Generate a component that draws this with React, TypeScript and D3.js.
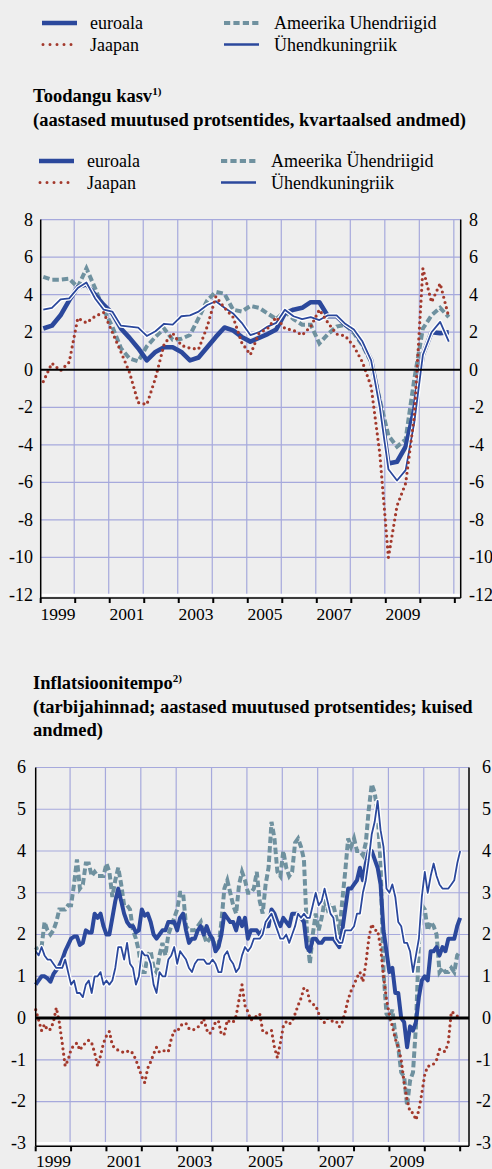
import React from "react";
import * as d3 from "d3";

// ---- data ----
const quarterYears = [1999, 2000, 2001, 2002, 2003, 2004, 2005, 2006, 2007, 2008, 2009, 2010];
const quarters = quarterYears.flatMap((y) => [1, 2, 3, 4].map((q) => `${y}Q${q}`));

// Toodangu kasv, quarterly 1999Q1 - 2010Q4
const gdpEuro = [
  2.2, 2.35, 2.9, 3.7, 4.4, 4.55, 4.0, 3.45, 3.0, 2.2, 1.7, 1.15,
  0.5, 0.95, 1.2, 1.2, 0.95, 0.5, 0.65, 1.2, 1.75, 2.25, 2.1, 1.75,
  1.5, 1.7, 1.9, 2.15, 3.0, 3.2, 3.3, 3.6, 3.6, 2.85, 2.85, 2.4,
  2.1, 1.4, 0.5, -1.8, -5.0, -4.9, -4.1, -2.1, 0.8, 2.0, 1.95, 2.0,
];
const gdpJapan = [
  -0.63, 0.35, -0.05, 0.4, 2.75, 2.5, 2.85, 3.05, 2.0, 0.95, -0.15, -1.75,
  -1.85, -0.45, 1.35, 1.95, 1.3, 1.15, 1.1, 2.3, 3.9, 3.3, 2.8, 1.45,
  0.8, 1.95, 2.2, 2.8, 2.2, 2.1, 1.85, 2.3, 3.2, 2.5, 1.9, 1.8,
  1.25, 0.4, -0.9, -4.45, -10.0, -7.25, -6.05, -2.5, 5.4, 3.6, 4.6, 2.8,
];
const gdpUsa = [
  4.95, 4.8, 4.8, 4.85, 4.4, 5.4, 4.35, 3.2, 2.3, 1.15, 0.6, 0.45,
  1.25, 1.75, 2.2, 1.6, 1.65, 1.85, 2.75, 3.7, 4.15, 4.05, 3.2, 3.1,
  3.4, 3.3, 3.0, 2.7, 3.1, 2.7, 2.4, 2.4, 1.4, 1.9, 2.3, 2.4,
  1.95, 1.3, 0.4, -1.6, -3.5, -4.1, -3.7, -0.5, 2.2, 2.9, 3.3, 2.8,
];
const gdpUk = [
  3.2, 3.3, 3.75, 3.8, 4.35, 4.65, 3.8, 3.2, 3.1, 2.35, 2.3, 2.25,
  1.8, 2.05, 2.45, 2.4, 2.85, 2.9, 3.1, 3.45, 3.65, 3.3, 3.0, 2.5,
  1.85, 2.0, 2.3, 2.5, 3.2, 2.85, 2.7, 2.8, 2.65, 2.9, 2.9, 2.45,
  2.15, 1.5, 0.5, -2.0, -5.3, -5.9, -5.35, -2.8, 0.8, 2.0, 2.55, 1.5,
];

// Inflatsioonitempo, monthly Jan 1999 - Jan 2011
const monthYears = [1999, 2000, 2001, 2002, 2003, 2004, 2005, 2006, 2007, 2008, 2009, 2010];
const months = [...monthYears.flatMap((y) => d3.range(12).map((m) => `${y}-${m + 1}`)), "2011-1"];

const cpiEuro = [
  0.8, 0.9, 1.0, 1.0, 0.95, 0.87, 1.05, 1.15, 1.25, 1.4, 1.6, 1.75,
  1.9, 1.95, 1.95, 1.75, 1.8, 2.1, 2.05, 2.05, 2.5, 2.4, 2.5, 2.2,
  2.0, 2.0, 2.4, 2.8, 3.1, 2.8, 2.5, 2.3, 2.2, 2.2, 2.05, 2.1,
  2.6, 2.45, 2.5, 2.3, 2.0, 1.9, 2.0, 2.1, 2.1, 2.3, 2.3, 2.3,
  2.1, 2.4, 2.5, 2.1, 1.8, 1.9, 1.9, 2.1, 2.2, 2.0, 2.2, 2.0,
  1.9, 1.6, 1.7, 2.0, 2.5, 2.4, 2.3, 2.3, 2.1, 2.4, 2.2, 2.4,
  1.9, 2.1, 2.1, 2.1, 2.0, 2.1, 2.2, 2.2, 2.6, 2.5, 2.3, 2.2,
  2.4, 2.3, 2.2, 2.5, 2.5, 2.5, 2.4, 2.3, 1.7, 1.6, 1.9, 1.9,
  1.8, 1.8, 1.9, 1.9, 1.9, 1.9, 1.8, 1.7, 2.1, 2.6, 3.1, 3.1,
  3.2, 3.3, 3.6, 3.3, 3.7, 4.0, 4.0, 3.8, 3.6, 3.2, 2.1, 1.6,
  1.1, 1.2, 0.6, 0.6, 0.0, -0.1, -0.7, -0.2, -0.3, -0.1, 0.5, 0.9,
  1.0, 0.9, 1.6, 1.6, 1.7, 1.5, 1.7, 1.6, 1.9, 1.9, 1.9, 2.2,
  2.4,
];
const cpiJapan = [
  0.2, -0.05, -0.3, -0.15, -0.29, -0.27, -0.1, 0.25, -0.1, -0.6, -1.15, -1.0,
  -0.75, -0.65, -0.6, -0.77, -0.65, -0.6, -0.53, -0.6, -0.83, -1.15, -0.9, -0.6,
  -0.43, -0.32, -0.65, -0.73, -0.77, -0.8, -0.83, -0.8, -0.78, -0.85, -1.0, -1.2,
  -1.4, -1.55, -1.2, -1.05, -0.86, -0.7, -0.82, -0.8, -0.77, -0.8, -0.5, -0.3,
  -0.33, -0.2, -0.13, -0.13, -0.25, -0.29, -0.27, -0.22, -0.15, -0.02, -0.28, -0.38,
  -0.27, -0.1, -0.07, -0.4, -0.38, -0.05, -0.1, -0.1, 0.05, 0.45, 0.8, 0.3,
  0.15, -0.05, -0.01, 0.05, 0.1, -0.3, -0.37, -0.33, -0.3, -0.7, -0.95, -0.6,
  -0.2, -0.09, -0.15, -0.08, 0.1, 0.3, 0.47, 0.72, 0.7, 0.4, 0.33, 0.3,
  0.11, -0.05, -0.11, -0.01, -0.05, -0.09, -0.08, -0.21, -0.1, 0.15, 0.45, 0.65,
  0.8, 0.97, 1.1, 0.87, 1.3, 1.9, 2.25, 2.1, 2.1, 1.7, 1.0, 0.45,
  0.07, -0.2, -0.5, -0.7, -1.0, -1.55, -1.96, -2.25, -2.27, -2.44, -2.2, -1.8,
  -1.35, -1.15, -1.15, -1.1, -1.0, -0.75, -0.8, -0.8, -0.57, 0.15, 0.11, 0.05,
  0.01,
];
const cpiUsa = [
  1.7, 1.6, 1.7, 2.3, 2.1, 2.0, 2.1, 2.3, 2.6, 2.6, 2.6, 2.7,
  2.7, 3.2, 3.8, 3.1, 3.2, 3.7, 3.7, 3.4, 3.5, 3.4, 3.4, 3.4,
  3.7, 3.5, 2.9, 3.3, 3.6, 3.2, 2.7, 2.7, 2.6, 2.1, 1.9, 1.6,
  1.1, 1.1, 1.5, 1.6, 1.2, 1.1, 1.5, 1.8, 1.5, 2.0, 2.2, 2.4,
  2.6, 3.0, 3.0, 2.2, 2.1, 2.1, 2.1, 2.2, 2.3, 2.0, 1.8, 1.9,
  1.9, 1.7, 1.7, 2.3, 3.1, 3.3, 3.0, 2.7, 2.5, 3.2, 3.5, 3.3,
  3.0, 3.0, 3.1, 3.5, 2.8, 2.5, 3.2, 3.6, 4.7, 4.3, 3.5, 3.4,
  4.0, 3.6, 3.4, 3.5, 4.2, 4.3, 4.1, 3.8, 2.1, 1.3, 2.0, 2.5,
  2.1, 2.4, 2.8, 2.6, 2.7, 2.7, 2.4, 2.0, 2.8, 3.5, 4.3, 4.1,
  4.3, 4.0, 4.0, 3.9, 4.2, 5.0, 5.6, 5.4, 4.9, 3.7, 1.1, 0.1,
  0.0, 0.2, -0.4, -0.7, -1.3, -1.4, -2.1, -1.5, -1.3, -0.2, 1.8, 2.7,
  2.6, 2.1, 2.3, 2.2, 2.0, 1.1, 1.2, 1.1, 1.1, 1.2, 1.1, 1.5,
  1.6,
];
const cpiUk = [
  1.6, 1.5, 1.7, 1.5, 1.4, 1.4, 1.3, 1.2, 1.2, 1.2, 1.4, 1.1,
  0.8, 0.9, 0.6, 0.6, 0.5, 0.8, 0.9, 0.6, 1.0, 1.0, 1.1, 0.8,
  0.9, 0.8, 0.9, 1.2, 1.7, 1.7, 1.4, 1.8, 1.3, 1.2, 0.8, 1.0,
  1.6, 1.5, 1.5, 1.3, 0.8, 0.6, 1.1, 1.0, 1.0, 1.4, 1.5, 1.7,
  1.3, 1.6, 1.5, 1.4, 1.2, 1.1, 1.3, 1.4, 1.4, 1.4, 1.3, 1.3,
  1.4, 1.3, 1.1, 1.1, 1.5, 1.6, 1.4, 1.3, 1.1, 1.2, 1.5, 1.7,
  1.6, 1.7, 1.9, 1.9, 1.9, 2.0, 2.3, 2.4, 2.5, 2.3, 2.1, 1.9,
  1.9, 2.0, 1.8, 2.0, 2.2, 2.5, 2.4, 2.5, 2.4, 2.4, 2.7, 3.0,
  2.7, 2.8, 3.1, 2.8, 2.5, 2.4, 1.9, 1.8, 1.8, 2.1, 2.1, 2.1,
  2.2, 2.5, 2.5, 3.0, 3.3, 3.8, 4.4, 4.7, 5.2, 4.5, 4.1, 3.1,
  3.0, 3.2, 2.9, 2.3, 2.2, 1.8, 1.8, 1.6, 1.1, 1.5, 1.9, 2.9,
  3.5, 3.0, 3.4, 3.7, 3.4, 3.2, 3.1, 3.1, 3.1, 3.2, 3.3, 3.7,
  4.0,
];

const axisYears = d3.range(1999, 2012);
const yearLabels = [1999, 2001, 2003, 2005, 2007, 2009];
const growthTicks = [8, 6, 4, 2, 0, -2, -4, -6, -8, -10, -12];
const inflationTicks = [6, 5, 4, 3, 2, 1, 0, -1, -2, -3];

// ---- styles ----
const BG = "#eeeeee";
const GRID = "#a6a9dc";
const BLUE = "#2b489c";
const RED = "#a3392c";
const TEAL = "#6f919f";
const FONT = "Liberation Serif";
const FS = 18;

const toTimeQ = (_: string, i: number) => 1999 + i / 4 + 0.075;
const toTimeM = (_: string, i: number) => 1999 + i / 12;

function T(props: any) {
  return <text fontFamily={FONT} fontSize={FS} fill="#000" {...props} />;
}

function Panel(props: any) {
  const { x0, x1, yearEnd, yTop, yBottom, ticks, times, euro, japan, usa, uk,
    leftX, rightX, rightAnchor, labelBaseline, zeroWidth, dash, thick } = props;
  const x = d3.scaleLinear().domain([1999, yearEnd]).range([x0, x1]);
  const y = d3.scaleLinear().domain([ticks[ticks.length - 1], ticks[0]]).range([yBottom, yTop]);
  const line = d3.line<number>().x((_, i) => x(times[i])).y((d) => y(d));
  const axisY = yBottom + 3;

  return (
    <g>
      {ticks.filter((t: number) => t !== 0 && t !== ticks[ticks.length - 1]).map((t: number) => (
        <line key={"h" + t} x1={x0} x2={x1} y1={y(t)} y2={y(t)} stroke={GRID} strokeWidth={1.2} />
      ))}
      {axisYears.slice(1).map((yr) => (
        <line key={"v" + yr} x1={x(yr) - 1} x2={x(yr) - 1} y1={yTop} y2={yBottom} stroke={GRID} strokeWidth={1.2} />
      ))}
      <line x1={x0} x2={x1} y1={yBottom} y2={yBottom} stroke="#ffffff" strokeWidth={2.5} />

      <path d={line(usa) || ""} fill="none" stroke={TEAL} strokeWidth={4} strokeDasharray={dash} />
      <path d={line(euro) || ""} fill="none" stroke={BLUE} strokeWidth={thick} strokeLinejoin="round" />
      <path d={line(uk) || ""} fill="none" stroke="#ffffff" strokeWidth={4.4} strokeLinejoin="round" />
      <path d={line(uk) || ""} fill="none" stroke={BLUE} strokeWidth={1.8} strokeLinejoin="round" />
      <path d={line(japan) || ""} fill="none" stroke={RED} strokeWidth={3.2} strokeDasharray="0 5.4" strokeLinecap="round" />

      <line x1={x0} x2={x1} y1={y(0)} y2={y(0)} stroke="#000" strokeWidth={zeroWidth} />
      <line x1={x0} x2={x0} y1={yTop} y2={axisY} stroke="#000" strokeWidth={1.5} />
      <line x1={x1} x2={x1} y1={yTop} y2={axisY} stroke="#000" strokeWidth={1.5} />
      <line x1={x0} x2={x1} y1={axisY} y2={axisY} stroke="#000" strokeWidth={1.5} />
      {axisYears.map((yr) => (
        <line key={"t" + yr} x1={x(yr)} x2={x(yr)} y1={axisY} y2={axisY + 5} stroke="#000" strokeWidth={2} />
      ))}

      {ticks.map((t: number) => (
        <T key={"l" + t} x={leftX} y={y(t)} dy="0.33em" textAnchor="end">{t}</T>
      ))}
      {ticks.map((t: number) => (
        <T key={"r" + t} x={rightX} y={y(t)} dy="0.33em" textAnchor={rightAnchor}>{t}</T>
      ))}
      {yearLabels.map((yr) => (
        <T key={"y" + yr} x={x(yr + 0.5)} y={labelBaseline} textAnchor="middle" fontSize={17.5}>{yr}</T>
      ))}
    </g>
  );
}

function Legend({ x, y, usaLabel }: { x: number; y: number; usaLabel: string }) {
  const row2 = y + 21.5;
  const col2 = x + 182;
  return (
    <g>
      <line x1={x} x2={x + 35} y1={y} y2={y} stroke={BLUE} strokeWidth={4.5} />
      <T x={x + 48} y={y + 6}>euroala</T>
      <line x1={x + 1} x2={x + 35} y1={row2} y2={row2} stroke={RED} strokeWidth={3} strokeDasharray="0 7" strokeLinecap="round" />
      <T x={x + 48} y={row2 + 6}>Jaapan</T>
      <line x1={col2} x2={col2 + 35} y1={y} y2={y} stroke={TEAL} strokeWidth={4} strokeDasharray="6.2 3.2" />
      <T x={col2 + 50} y={y + 6}>{usaLabel}</T>
      <line x1={col2} x2={col2 + 35} y1={row2} y2={row2} stroke={BLUE} strokeWidth={2.5} />
      <T x={col2 + 50} y={row2 + 6}>Ühendkuningriik</T>
    </g>
  );
}

export default function App() {
  const tq = quarters.map(toTimeQ);
  const tm = months.map(toTimeM);
  return (
    <div style={{ position: "absolute", left: 0, top: 0, width: 492, height: 1169, background: BG }}>
      <svg width={492} height={1169} style={{ display: "block" }}>
        <rect width={492} height={1169} fill={BG} />
        <Legend x={42} y={23} usaLabel="Ameerika Uhendriigid" />

        <T x={33} y={102} fontWeight="bold" fontSize={18.5}>
          Toodangu kasv<tspan fontSize={11} dy={-7}>1)</tspan>
        </T>
        <T x={33} y={126} fontWeight="bold" fontSize={18.5}>(aastased muutused protsentides, kvartaalsed andmed)</T>

        <Legend x={39} y={161} usaLabel="Ameerika Ühendriigid" />

        <Panel
          x0={40.7} x1={460.7} yearEnd={2011.17} yTop={219.6} yBottom={595}
          ticks={growthTicks} times={tq}
          euro={gdpEuro} japan={gdpJapan} usa={gdpUsa} uk={gdpUk}
          leftX={33} rightX={469} rightAnchor="start" labelBaseline={620}
          zeroWidth={2} dash="6.5 3" thick={4.6}
        />

        <T x={33} y={689} fontWeight="bold" fontSize={18.5}>
          Inflatsioonitempo<tspan fontSize={11} dy={-7}>2)</tspan>
        </T>
        <T x={33} y={713} fontWeight="bold" fontSize={18.5}>(tarbijahinnad; aastased muutused protsentides; kuised</T>
        <T x={33} y={736} fontWeight="bold" fontSize={18.5}>andmed)</T>

        <Panel
          x0={35.7} x1={469} yearEnd={2011.25} yTop={767.5} yBottom={1143.3}
          ticks={inflationTicks} times={tm}
          euro={cpiEuro} japan={cpiJapan} usa={cpiUsa} uk={cpiUk}
          leftX={26} rightX={491} rightAnchor="end" labelBaseline={1167}
          zeroWidth={3} dash="6.5 3" thick={4}
        />
      </svg>
    </div>
  );
}
